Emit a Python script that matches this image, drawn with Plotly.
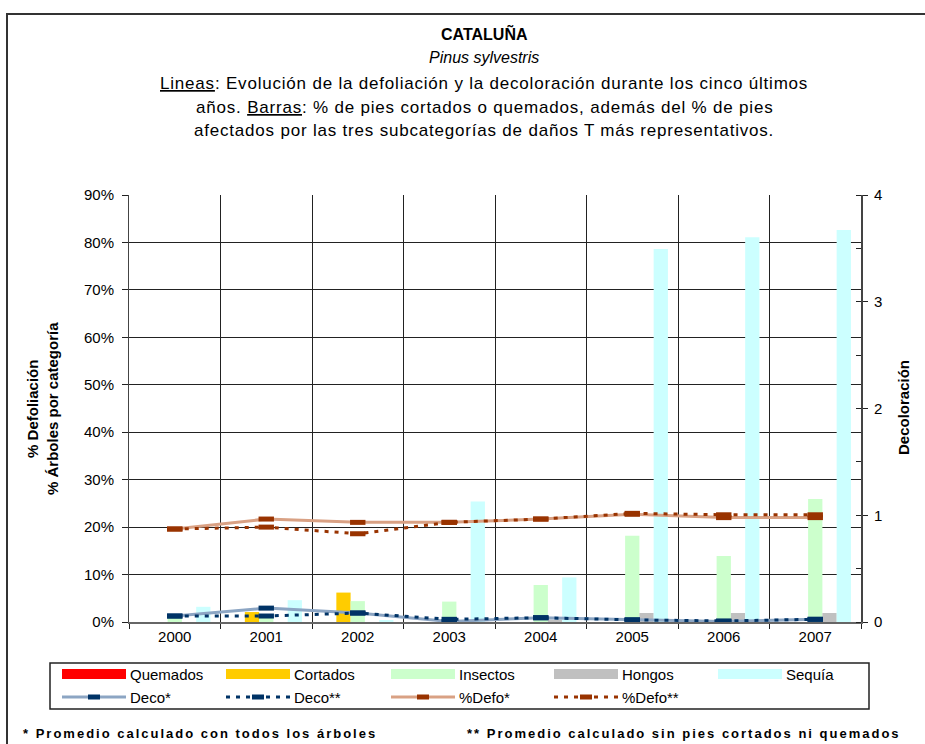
import plotly.graph_objects as go

# --- data ---
years = ["2000", "2001", "2002", "2003", "2004", "2005", "2006", "2007"]

quemados = [0, 0, 0, 0, 0, 0, 0, 0]
cortados = [0, 2.1, 6.2, 0, 0, 0, 0, 0]
insectos = [1.0, 1.5, 4.4, 4.3, 7.8, 18.2, 13.9, 25.9]
hongos = [0, 0, 0, 0.2, 0.5, 1.9, 1.9, 1.9]
sequia = [3.2, 4.6, 0.4, 25.4, 9.4, 78.6, 81.1, 82.6]

deco_todos = [0.056, 0.13, 0.084, 0.005, 0.04, 0.02, 0.005, 0.025]
deco_sin = [0.056, 0.056, 0.084, 0.025, 0.04, 0.02, 0.01, 0.025]
defo_todos = [19.6, 21.7, 21.0, 21.0, 21.7, 22.7, 22.0, 22.0]
defo_sin = [19.6, 20.0, 18.6, 21.0, 21.7, 22.9, 22.6, 22.6]

bar_names = ["Quemados", "Cortados", "Insectos", "Hongos", "Sequía"]
bar_colors = ["#FF0000", "#FFCC00", "#CCFFCC", "#C0C0C0", "#CCFFFF"]
bar_values = [quemados, cortados, insectos, hongos, sequia]

line_names = ["Deco*", "Deco**", "%Defo*", "%Defo**"]
line_values = [deco_todos, deco_sin, defo_todos, defo_sin]
line_axes = ["y2", "y2", "y", "y"]
line_colors = ["#8CA5C3", "#003366", "#D9A184", "#993300"]
line_dash = ["solid", "4px,6px", "solid", "4px,6px"]
marker_colors = ["#003366", "#003366", "#993300", "#993300"]

# page geometry (pixels)
W, H = 925, 744
L, R, T, B = 129, 861, 195, 622
FONT = "Liberation Sans, Arial, sans-serif"


def px(x):
    return (x - L) / (R - L)


def py(y):
    return (B - y) / (B - T)


def spaced(text, sp):
    return "<span style='letter-spacing:%spx'>%s</span>" % (sp, text)


fig = go.Figure()

for name, vals, color in zip(bar_names, bar_values, bar_colors):
    fig.add_trace(go.Bar(x=years, y=vals, name=name,
                         marker=dict(color=color, line=dict(width=0))))

for i, name in enumerate(line_names):
    fig.add_trace(go.Scatter(
        x=years, y=line_values[i], name=name, yaxis=line_axes[i],
        mode="lines+markers",
        line=dict(color=line_colors[i], width=3, dash=line_dash[i]),
        marker=dict(symbol="line-ew", size=11,
                    line=dict(color=marker_colors[i], width=5)),
    ))

fig.update_layout(
    width=W, height=H,
    margin=dict(l=L, r=W - R, t=T, b=H - B, autoexpand=False),
    paper_bgcolor="white", plot_bgcolor="white",
    barmode="group", bargap=0.22, bargroupgap=0,
    showlegend=False,
    font=dict(family=FONT, size=15, color="black"),
    xaxis=dict(type="category", tickson="boundaries", showgrid=True,
               gridcolor="#222", gridwidth=1, ticks="outside", ticklen=5,
               tickcolor="#222", showline=True, linecolor="#666", linewidth=2),
    yaxis=dict(range=[0, 90], dtick=10, ticksuffix="%", showgrid=True,
               gridcolor="#222", gridwidth=1, ticks="outside", ticklen=6,
               tickcolor="#222", showline=True, linecolor="#444", zeroline=False,
               ticklabelstandoff=5),
    yaxis2=dict(range=[0, 4], dtick=1, overlaying="y", side="right",
                showgrid=False, ticks="outside", ticklen=5, tickcolor="#222",
                showline=True, linecolor="#444", linewidth=2, zeroline=False,
                ticklabelstandoff=3,
                minor=dict(dtick=0.5, ticks="inside", ticklen=5, tickcolor="#222")),
)

# title block
title_lines = [
    ("<b>CATALUÑA</b>", 33, 16, 0),
    ("<i>Pinus sylvestris</i>", 57, 16, 0),
    ("<u>Lineas</u>: Evolución de la defoliación y la decoloración durante los cinco últimos", 84, 17, 0.8),
    ("años. <u>Barras</u>: % de pies cortados o quemados, además del % de pies", 107, 17, 0.8),
    ("afectados por las tres subcategorías de daños T más representativos.", 130, 17, 0.8),
]
for text, y, size, sp in title_lines:
    fig.add_annotation(text=spaced(text, sp), x=px(484), y=py(y), xref="paper", yref="paper",
                       xanchor="center", yanchor="middle", showarrow=False,
                       font=dict(size=size))

# axis titles
fig.add_annotation(text="<b>% Defoliación<br>% Árboles por categoría</b>",
                   x=px(42), y=py(409), xref="paper", yref="paper",
                   textangle=-90, showarrow=False, xanchor="center", yanchor="middle",
                   font=dict(size=15))
fig.add_annotation(text="<b>Decoloración</b>", x=px(903), y=py(408),
                   xref="paper", yref="paper", textangle=-90, showarrow=False,
                   xanchor="center", yanchor="middle", font=dict(size=15))

# outer frame
fig.add_shape(type="rect", xref="paper", yref="paper",
              x0=px(7), x1=px(960), y0=py(14), y1=py(780),
              line=dict(color="#333", width=2))

# hand-drawn legend box
fig.add_shape(type="rect", xref="paper", yref="paper",
              x0=px(50), x1=px(869), y0=py(663), y1=py(709),
              line=dict(color="#222", width=1.5))
col_x = [62, 226, 391, 554, 718]
sw = 64
row1, row2 = 674, 697
for i, name in enumerate(bar_names):
    x0 = col_x[i]
    fig.add_shape(type="rect", xref="paper", yref="paper",
                  x0=px(x0), x1=px(x0 + sw), y0=py(row1 - 5), y1=py(row1 + 5),
                  fillcolor=bar_colors[i], line=dict(width=0))
    fig.add_annotation(text=name, x=px(x0 + sw + 2), y=py(row1), xref="paper",
                       yref="paper", xanchor="left", yanchor="middle",
                       showarrow=False, font=dict(size=15))
for i, name in enumerate(line_names):
    x0 = col_x[i]
    fig.add_shape(type="line", xref="paper", yref="paper",
                  x0=px(x0), x1=px(x0 + sw), y0=py(row2), y1=py(row2),
                  line=dict(color=line_colors[i], width=3, dash=line_dash[i]))
    fig.add_shape(type="rect", xref="paper", yref="paper",
                  x0=px(x0 + sw / 2 - 6), x1=px(x0 + sw / 2 + 6),
                  y0=py(row2 - 2.5), y1=py(row2 + 2.5),
                  fillcolor=marker_colors[i], line=dict(width=0))
    fig.add_annotation(text=name, x=px(x0 + sw + 2), y=py(row2), xref="paper",
                       yref="paper", xanchor="left", yanchor="middle",
                       showarrow=False, font=dict(size=15))

# footnotes
notes = [("* Promedio calculado con todos los árboles", 200),
         ("** Promedio calculado sin pies cortados ni quemados", 684)]
for text, x in notes:
    fig.add_annotation(text="<b>" + spaced(text, 2) + "</b>",
                       x=px(x), y=py(733), xref="paper", yref="paper",
                       xanchor="center", yanchor="middle", showarrow=False,
                       font=dict(size=13))

fig.write_html("out.html", config={"displayModeBar": False},
               post_script="document.body.style.margin='0';"
                           "document.body.style.overflow='hidden';")
